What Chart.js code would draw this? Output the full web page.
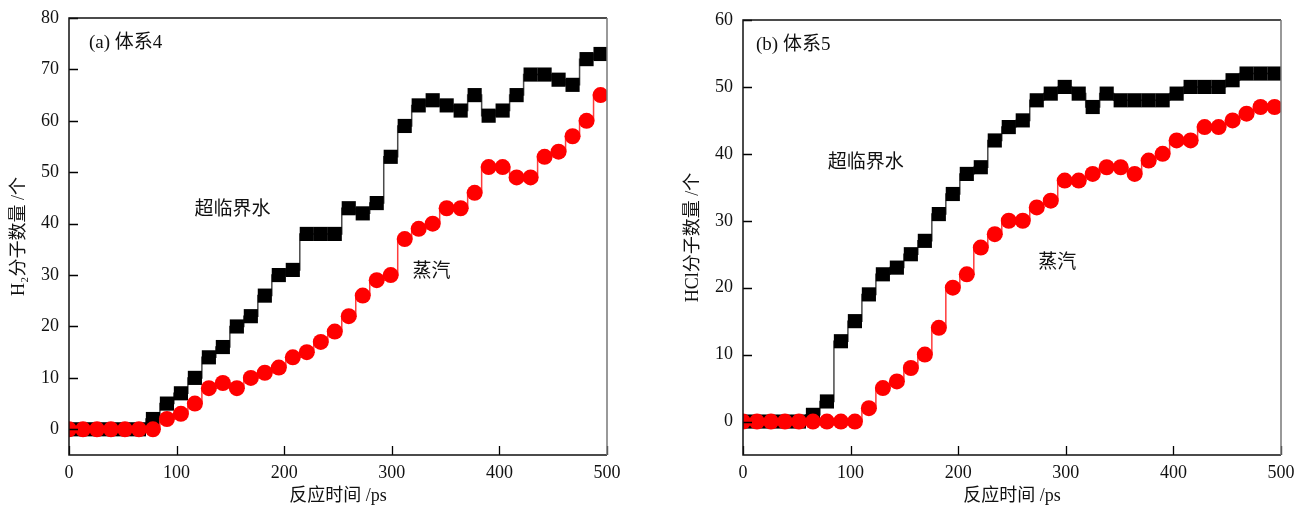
<!DOCTYPE html>
<html>
<head>
<meta charset="utf-8">
<script src="https://cdn.jsdelivr.net/npm/chart.js@4.4.1/dist/chart.umd.min.js"></script>
<style>
  html, body { margin: 0; padding: 0; background: #fff; }
  #wrap { position: relative; width: 1296px; height: 507px; }
  .pane { position: absolute; top: 0; width: 648px; height: 507px; }
  #paneA { left: 0; }
  #paneB { left: 648px; }
</style>
</head>
<body>
<div id="wrap">
  <div class="pane" id="paneA"><canvas id="chartA" width="648" height="507"></canvas></div>
  <div class="pane" id="paneB"><canvas id="chartB" width="648" height="507"></canvas></div>
</div>
<script>
// Reaction time (ps) at each plotted sample
const timePs = [0, 13, 26, 39, 52, 65, 78, 91, 104, 117, 130, 143, 156, 169, 182, 195, 208, 221, 234, 247,
                260, 273, 286, 299, 312, 325, 338, 351, 364, 377, 390, 403, 416, 429, 442, 455, 468, 481, 494];

// (a) system 4: H2 molecule count
const h2Supercritical = [0, 0, 0, 0, 0, 0, 2, 5, 7, 10, 14, 16, 20, 22, 26, 30, 31, 38, 38, 38,
                         43, 42, 44, 53, 59, 63, 64, 63, 62, 65, 61, 62, 65, 69, 69, 68, 67, 72, 73];
const h2Steam = [0, 0, 0, 0, 0, 0, 0, 2, 3, 5, 8, 9, 8, 10, 11, 12, 14, 15, 17, 19,
                 22, 26, 29, 30, 37, 39, 40, 43, 43, 46, 51, 51, 49, 49, 53, 54, 57, 60, 65];

// (b) system 5: HCl molecule count
const hclSupercritical = [0, 0, 0, 0, 0, 1, 3, 12, 15, 19, 22, 23, 25, 27, 31, 34, 37, 38, 42, 44,
                          45, 48, 49, 50, 49, 47, 49, 48, 48, 48, 48, 49, 50, 50, 50, 51, 52, 52, 52];
const hclSteam = [0, 0, 0, 0, 0, 0, 0, 0, 0, 2, 5, 6, 8, 10, 14, 20, 22, 26, 28, 30,
                  30, 32, 33, 36, 36, 37, 38, 38, 37, 39, 40, 42, 42, 44, 44, 45, 46, 47, 47];

const xTicks = [0, 100, 200, 300, 400, 500];
const yTicksA = [0, 10, 20, 30, 40, 50, 60, 70, 80];
const yTicksB = [0, 10, 20, 30, 40, 50, 60];

const serif = '"Liberation Serif", "Noto Sans CJK SC", serif';
const cjk = '"Noto Sans CJK SC", "Liberation Serif", sans-serif';

function pts(values) {
  return timePs.map((t, i) => ({ x: t, y: values[i] }));
}

// Frame, inward tick marks, axis titles and in-plot labels
const decorPlugin = {
  id: 'decor',
  afterDraw(chart, args, opts) {
    const { ctx, chartArea: a, scales } = chart;
    const xs = scales.x, ys = scales.y;
    ctx.save();
    // inward ticks
    ctx.strokeStyle = '#000';
    ctx.lineWidth = 1.3;
    ctx.beginPath();
    opts.xTicks.forEach(v => {
      const px = Math.round(xs.getPixelForValue(v)) + 0.5;
      ctx.moveTo(px, a.bottom);
      ctx.lineTo(px, a.bottom - 9);
    });
    opts.yTicks.forEach(v => {
      const py = Math.round(ys.getPixelForValue(v)) + 0.5;
      ctx.moveTo(a.left, py);
      ctx.lineTo(a.left + 9, py);
    });
    ctx.stroke();
    // frame
    ctx.lineWidth = 1.5;
    ctx.strokeStyle = '#111';
    ctx.beginPath();
    ctx.moveTo(a.right, a.top);
    ctx.lineTo(a.left, a.top);
    ctx.lineTo(a.left, a.bottom);
    ctx.lineTo(a.right, a.bottom);
    ctx.stroke();
    ctx.strokeStyle = '#777';
    ctx.beginPath();
    ctx.moveTo(a.right, a.top);
    ctx.lineTo(a.right, a.bottom);
    ctx.stroke();

    ctx.fillStyle = '#111';
    // panel label
    ctx.font = '19px ' + serif;
    ctx.textAlign = 'left';
    ctx.textBaseline = 'middle';
    ctx.fillText(opts.panel, a.left + opts.panelDx, a.top + 25);
    // series labels
    ctx.font = '19px ' + cjk;
    ctx.textAlign = 'center';
    opts.notes.forEach(n => {
      ctx.fillText(n.text, xs.getPixelForValue(n.x), ys.getPixelForValue(n.y));
    });
    // x-axis title
    ctx.font = '18px ' + serif;
    ctx.fillText('反应时间 /ps', (a.left + a.right) / 2, a.bottom + 41);
    // y-axis title (rotated)
    ctx.translate(opts.yTitleX, (a.top + a.bottom) / 2);
    ctx.rotate(-Math.PI / 2);
    ctx.font = '18px ' + serif;
    ctx.fillText(opts.yTitle, 0, 0);
    ctx.restore();
  }
};

function makeChart(id, supercritical, steam, yMin, yMax, yTicks, pad, yAxisWidth, decor) {
  // the first dataset is painted last, so the steam circles sit on top
  return new Chart(document.getElementById(id), {
    type: 'line',
    data: {
      datasets: [
        {
          data: pts(steam),
          borderColor: '#ff3c3c',
          borderWidth: 1.5,
          backgroundColor: '#ff0000',
          pointBackgroundColor: '#ff0000',
          pointBorderColor: '#ff0000',
          pointStyle: 'circle',
          pointRadius: 8,
          pointBorderWidth: 0,
          stepped: 'middle'
        },
        {
          data: pts(supercritical),
          borderColor: '#4a4a4a',
          borderWidth: 1.5,
          backgroundColor: '#000',
          pointBackgroundColor: '#000',
          pointBorderColor: '#000',
          pointStyle: 'rect',
          pointRadius: 10,
          pointBorderWidth: 0,
          stepped: 'middle'
        }
      ]
    },
    options: {
      responsive: false,
      animation: false,
      events: [],
      layout: { padding: pad },
      plugins: {
        legend: { display: false },
        tooltip: { enabled: false },
        decor: decor
      },
      scales: {
        x: {
          type: 'linear',
          min: 0, max: 500,
          grid: { display: false, drawTicks: false },
          border: { display: false },
          afterFit(s) { s.height = 52; s.paddingLeft = 0; s.paddingRight = 0; },
          afterBuildTicks(s) { s.ticks = xTicks.map(v => ({ value: v })); },
          ticks: {
            color: '#111',
            padding: 7,
            maxRotation: 0,
            font: { family: serif, size: 18 }
          }
        },
        y: {
          type: 'linear',
          min: yMin, max: yMax,
          grid: { display: false, drawTicks: false },
          border: { display: false },
          afterFit(s) { s.width = yAxisWidth; s.paddingTop = 0; s.paddingBottom = 0; },
          afterBuildTicks(s) { s.ticks = yTicks.map(v => ({ value: v })); },
          ticks: {
            color: '#111',
            padding: 10,
            font: { family: serif, size: 18 }
          }
        }
      }
    },
    plugins: [decorPlugin]
  });
}

makeChart('chartA', h2Supercritical, h2Steam, -5, 80, yTicksA,
  { left: 0, right: 41, top: 18, bottom: 0 }, 69,
  {
    panel: '(a) 体系4', panelDx: 20,
    xTicks: xTicks, yTicks: yTicksA,
    yTitle: 'H₂分子数量 /个', yTitleX: 19,
    notes: [
      { text: '超临界水', x: 152, y: 43 },
      { text: '蒸汽', x: 337, y: 31 }
    ]
  });

makeChart('chartB', hclSupercritical, hclSteam, -5, 60, yTicksB,
  { left: 0, right: 15, top: 20, bottom: 0 }, 95,
  {
    panel: '(b) 体系5', panelDx: 13,
    xTicks: xTicks, yTicks: yTicksB,
    yTitle: 'HCl分子数量 /个', yTitleX: 45,
    notes: [
      { text: '超临界水', x: 114, y: 39 },
      { text: '蒸汽', x: 292, y: 24 }
    ]
  });
</script>
</body>
</html>
